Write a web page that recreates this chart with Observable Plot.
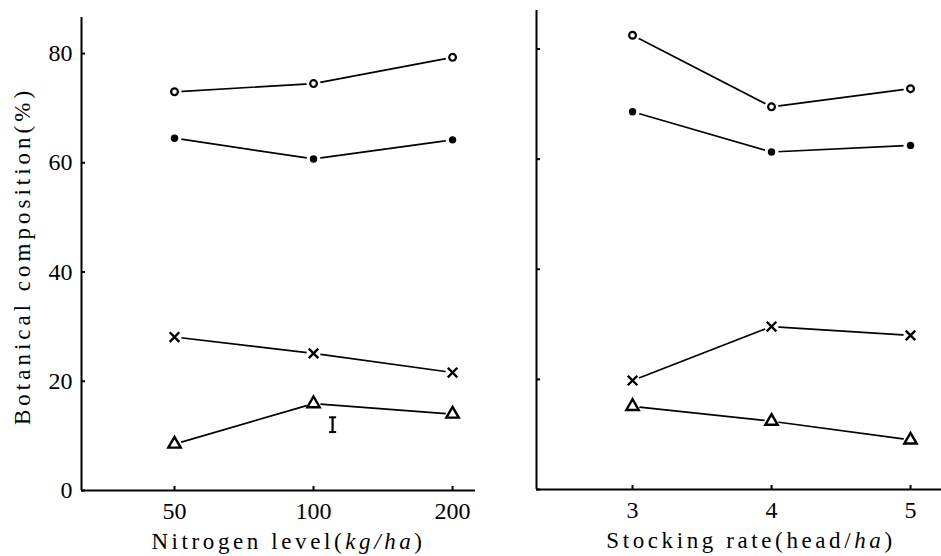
<!DOCTYPE html>
<html><head><meta charset="utf-8">
<script src="https://cdn.jsdelivr.net/npm/d3@7"></script>
<script src="https://cdn.jsdelivr.net/npm/@observablehq/plot@0.6"></script>
<style>
body{margin:0;background:#fff;}
#wrap{display:flex;width:941px;height:556px;overflow:hidden;}
#wrap svg{display:block;}
#wrap svg text{font-family:"Liberation Serif",serif;}
</style></head><body><div id="wrap"></div>
<script>
// ---- data ----
const nitrogenLevels = ["50", "100", "200"];
const nOpen     = [73.0, 74.5, 79.3];
const nFilled   = [64.5, 60.7, 64.2];
const nCross    = [28.1, 25.1, 21.6];
const nTriangle = [8.5, 15.9, 14.0];

const stockingRates = ["3", "4", "5"];
const sOpen     = [82.5, 69.5, 72.8];
const sFilled   = [68.6, 61.3, 62.5];
const sCross    = [19.8, 29.6, 28.0];
const sTriangle = [15.1, 12.4, 9.0];

const yTicks = [0, 20, 40, 60, 80];
const yLabelText = "Botanical composition(%)";
const nTitleParts = [["Nitrogen level(", false], ["kg/ha", true], [")", false]];
const sTitleParts = [["Stocking rate(head/", false], ["ha", true], [")", false]];
// LSD bar (left panel), position between 100 and 200
const lsdPos = [1.137];
const lsdLow = [10.7];
const lsdHigh = [13.4];

const dashSymbol = {draw(ctx, size){ const w = Math.sqrt(size) * 0.5; ctx.moveTo(-w, 0); ctx.lineTo(w, 0); }};

function build(cfg) {
  const series = [
    {key: "open", values: cfg.open},
    {key: "filled", values: cfg.filled},
    {key: "cross", values: cfg.cross},
    {key: "triangle", values: cfg.triangle}
  ];
  const rows = series.flatMap(s => s.values.map((v, i) => ({i, v, key: s.key})));
  const of = k => rows.filter(d => d.key === k);
  const title = cfg.titleParts.map(p => p[0]).join("");
  const marks = [
    Plot.ruleY([0], {strokeWidth: 2}),
    Plot.ruleX([cfg.xDomain[0]], {strokeWidth: 2}),
    Plot.axisY({ticks: yTicks, tickSize: -4, tickPadding: 13, strokeWidth: 2,
      tickFormat: cfg.yLabels ? (d => String(d)) : (() => ""), fontSize: 24, label: null}),
    Plot.axisX({ticks: [0, 1, 2], tickSize: -4, tickPadding: 15, strokeWidth: 2,
      tickFormat: i => cfg.cats[i], fontSize: 24, label: null}),
    Plot.line(rows, {x: "i", y: "v", z: "key", stroke: "black", strokeWidth: 1.7}),
    Plot.dot(rows, {x: "i", y: "v", r: 7, fill: "white"}),
    Plot.dot(of("open"), {x: "i", y: "v", r: 3.4, stroke: "black", strokeWidth: 2.2, fill: "white"}),
    Plot.dot(of("filled"), {x: "i", y: "v", r: 3.7, fill: "black"}),
    Plot.dot(of("cross"), {x: "i", y: "v", symbol: "times", r: 4.4, stroke: "black", strokeWidth: 2.4}),
    Plot.dot(of("triangle"), {x: "i", y: "v", symbol: "triangle", r: 4.6, stroke: "black", strokeWidth: 2.4, fill: "white"}),
    Plot.text([title], {frameAnchor: "bottom", lineAnchor: "bottom", dy: 58, dx: cfg.titleDx,
      fontSize: 23})
  ];
  if (cfg.yLabels) {
    marks.push(Plot.text([yLabelText], {frameAnchor: "left", textAnchor: "middle", rotate: -90, dx: -59, dy: 2, fontSize: 23}));
  }
  if (cfg.lsd) {
    const lsd = lsdPos.map((x, k) => ({x, lo: lsdLow[k], hi: lsdHigh[k]}));
    marks.push(Plot.ruleX(lsd, {x: "x", y1: "lo", y2: "hi", strokeWidth: 2.2}));
    marks.push(Plot.dot(lsd, {x: "x", y: "lo", symbol: dashSymbol, r: 4, stroke: "black", strokeWidth: 2}));
    marks.push(Plot.dot(lsd, {x: "x", y: "hi", symbol: dashSymbol, r: 4, stroke: "black", strokeWidth: 2}));
  }
  const svg = Plot.plot({
    width: cfg.width, height: 556,
    marginLeft: cfg.marginLeft, marginRight: cfg.marginRight,
    marginTop: cfg.marginTop, marginBottom: cfg.marginBottom,
    style: {fontFamily: "Liberation Serif, serif", color: "black", background: "white"},
    x: {type: "linear", domain: cfg.xDomain},
    y: {domain: cfg.yDomain},
    marks
  });
  // italic parts in axis titles
  d3.select(svg).selectAll("text").filter(function(){ return this.textContent === title; })
    .each(function(){
      const t = d3.select(this);
      t.text(null).style("letter-spacing", "3.6px");
      cfg.titleParts.forEach(([s, it]) => {
        t.append("tspan").text(s).attr("font-style", it ? "italic" : null);
      });
    });
  d3.select(svg).selectAll("text").filter(function(){ return this.textContent === yLabelText; })
    .style("letter-spacing", "4px");
  return svg;
}

const wrap = document.getElementById("wrap");
wrap.append(build({
  cats: nitrogenLevels, open: nOpen, filled: nFilled, cross: nCross, triangle: nTriangle,
  width: 490, marginLeft: 81, marginRight: 15, marginTop: 17, marginBottom: 66,
  xDomain: [-0.669, 2.165], yDomain: [0, 86.6], yLabels: true, lsd: true,
  titleParts: nTitleParts, titleDx: 10
}));
wrap.append(build({
  cats: stockingRates, open: sOpen, filled: sFilled, cross: sCross, triangle: sTriangle,
  width: 451, marginLeft: 46, marginRight: 0, marginTop: 10, marginBottom: 67,
  xDomain: [-0.691, 2.223], yDomain: [0, 87], yLabels: false, lsd: false,
  titleParts: sTitleParts, titleDx: 12
}));
</script></body></html>
